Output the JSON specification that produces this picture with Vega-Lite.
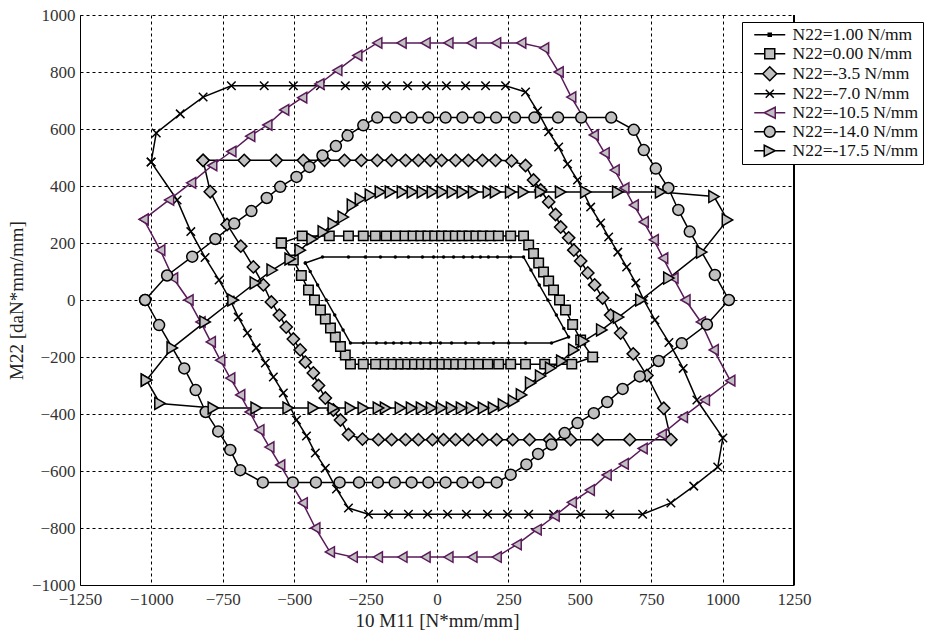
{
"$schema": "https://vega.github.io/schema/vega-lite/v6.json",
"width": 714, "height": 570,
"autosize": {"type": "none"},
"padding": {"left": 80, "top": 15, "right": 131, "bottom": 49},
"background": "white",
"config": {
 "font": "Liberation Serif",
 "view": {"stroke": null},
 "axis": {"domainColor": "black", "domainWidth": 1, "gridColor": "black", "gridDash": [3, 3], "gridWidth": 1, "gridOpacity": 1, "ticks": false, "labelFont": "Liberation Serif", "labelFontSize": 17, "labelColor": "#333", "labelFlush": false, "titleFont": "Liberation Serif", "titleFontSize": 19, "titleFontWeight": "normal", "titleColor": "#222"}
},
"datasets": {"pts": [
{"s":"N22=1.00 N/mm","i":0,"x":-461,"y":130},{"s":"N22=1.00 N/mm","i":1,"x":-401,"y":151},{"s":"N22=1.00 N/mm","i":2,"x":-310,"y":151},{"s":"N22=1.00 N/mm","i":3,"x":-251,"y":151},{"s":"N22=1.00 N/mm","i":4,"x":-198,"y":151},{"s":"N22=1.00 N/mm","i":5,"x":-146,"y":151},{"s":"N22=1.00 N/mm","i":6,"x":-100,"y":151},{"s":"N22=1.00 N/mm","i":7,"x":-51,"y":151},{"s":"N22=1.00 N/mm","i":8,"x":-12,"y":151},{"s":"N22=1.00 N/mm","i":9,"x":23,"y":151},{"s":"N22=1.00 N/mm","i":10,"x":58,"y":151},{"s":"N22=1.00 N/mm","i":11,"x":93,"y":151},{"s":"N22=1.00 N/mm","i":12,"x":124,"y":151},{"s":"N22=1.00 N/mm","i":13,"x":152,"y":151},{"s":"N22=1.00 N/mm","i":14,"x":180,"y":151},{"s":"N22=1.00 N/mm","i":15,"x":212,"y":151},{"s":"N22=1.00 N/mm","i":16,"x":258,"y":151},{"s":"N22=1.00 N/mm","i":17,"x":303,"y":151},{"s":"N22=1.00 N/mm","i":18,"x":329,"y":105},{"s":"N22=1.00 N/mm","i":19,"x":358,"y":53},{"s":"N22=1.00 N/mm","i":20,"x":388,"y":0},{"s":"N22=1.00 N/mm","i":21,"x":418,"y":-53},{"s":"N22=1.00 N/mm","i":22,"x":444,"y":-100},{"s":"N22=1.00 N/mm","i":23,"x":461,"y":-130},{"s":"N22=1.00 N/mm","i":24,"x":401,"y":-151},{"s":"N22=1.00 N/mm","i":25,"x":310,"y":-151},{"s":"N22=1.00 N/mm","i":26,"x":251,"y":-151},{"s":"N22=1.00 N/mm","i":27,"x":198,"y":-151},{"s":"N22=1.00 N/mm","i":28,"x":146,"y":-151},{"s":"N22=1.00 N/mm","i":29,"x":100,"y":-151},{"s":"N22=1.00 N/mm","i":30,"x":51,"y":-151},{"s":"N22=1.00 N/mm","i":31,"x":12,"y":-151},{"s":"N22=1.00 N/mm","i":32,"x":-23,"y":-151},{"s":"N22=1.00 N/mm","i":33,"x":-58,"y":-151},{"s":"N22=1.00 N/mm","i":34,"x":-93,"y":-151},{"s":"N22=1.00 N/mm","i":35,"x":-124,"y":-151},{"s":"N22=1.00 N/mm","i":36,"x":-152,"y":-151},{"s":"N22=1.00 N/mm","i":37,"x":-180,"y":-151},{"s":"N22=1.00 N/mm","i":38,"x":-212,"y":-151},{"s":"N22=1.00 N/mm","i":39,"x":-258,"y":-151},{"s":"N22=1.00 N/mm","i":40,"x":-303,"y":-151},{"s":"N22=1.00 N/mm","i":41,"x":-329,"y":-105},{"s":"N22=1.00 N/mm","i":42,"x":-358,"y":-53},{"s":"N22=1.00 N/mm","i":43,"x":-388,"y":0},{"s":"N22=1.00 N/mm","i":44,"x":-418,"y":53},{"s":"N22=1.00 N/mm","i":45,"x":-444,"y":100},{"s":"N22=1.00 N/mm","i":46,"x":-461,"y":130},

{"s":"N22=0.00 N/mm","i":0,"x":-545,"y":200},{"s":"N22=0.00 N/mm","i":1,"x":-472,"y":225},{"s":"N22=0.00 N/mm","i":2,"x":-377,"y":225},{"s":"N22=0.00 N/mm","i":3,"x":-310,"y":225},{"s":"N22=0.00 N/mm","i":4,"x":-258,"y":225},{"s":"N22=0.00 N/mm","i":5,"x":-216,"y":225},{"s":"N22=0.00 N/mm","i":6,"x":-178,"y":225},{"s":"N22=0.00 N/mm","i":7,"x":-144,"y":225},{"s":"N22=0.00 N/mm","i":8,"x":-112,"y":225},{"s":"N22=0.00 N/mm","i":9,"x":-84,"y":225},{"s":"N22=0.00 N/mm","i":10,"x":-57,"y":225},{"s":"N22=0.00 N/mm","i":11,"x":-32,"y":225},{"s":"N22=0.00 N/mm","i":12,"x":-8,"y":225},{"s":"N22=0.00 N/mm","i":13,"x":16,"y":225},{"s":"N22=0.00 N/mm","i":14,"x":40,"y":225},{"s":"N22=0.00 N/mm","i":15,"x":64,"y":225},{"s":"N22=0.00 N/mm","i":16,"x":88,"y":225},{"s":"N22=0.00 N/mm","i":17,"x":112,"y":225},{"s":"N22=0.00 N/mm","i":18,"x":136,"y":225},{"s":"N22=0.00 N/mm","i":19,"x":160,"y":225},{"s":"N22=0.00 N/mm","i":20,"x":187,"y":225},{"s":"N22=0.00 N/mm","i":21,"x":215,"y":225},{"s":"N22=0.00 N/mm","i":22,"x":258,"y":225},{"s":"N22=0.00 N/mm","i":23,"x":303,"y":225},{"s":"N22=0.00 N/mm","i":24,"x":321,"y":193},{"s":"N22=0.00 N/mm","i":25,"x":338,"y":163},{"s":"N22=0.00 N/mm","i":26,"x":356,"y":130},{"s":"N22=0.00 N/mm","i":27,"x":373,"y":98},{"s":"N22=0.00 N/mm","i":28,"x":391,"y":67},{"s":"N22=0.00 N/mm","i":29,"x":408,"y":35},{"s":"N22=0.00 N/mm","i":30,"x":429,"y":0},{"s":"N22=0.00 N/mm","i":31,"x":450,"y":-35},{"s":"N22=0.00 N/mm","i":32,"x":475,"y":-86},{"s":"N22=0.00 N/mm","i":33,"x":503,"y":-140},{"s":"N22=0.00 N/mm","i":34,"x":545,"y":-200},{"s":"N22=0.00 N/mm","i":35,"x":472,"y":-225},{"s":"N22=0.00 N/mm","i":36,"x":377,"y":-225},{"s":"N22=0.00 N/mm","i":37,"x":310,"y":-225},{"s":"N22=0.00 N/mm","i":38,"x":258,"y":-225},{"s":"N22=0.00 N/mm","i":39,"x":216,"y":-225},{"s":"N22=0.00 N/mm","i":40,"x":178,"y":-225},{"s":"N22=0.00 N/mm","i":41,"x":144,"y":-225},{"s":"N22=0.00 N/mm","i":42,"x":112,"y":-225},{"s":"N22=0.00 N/mm","i":43,"x":84,"y":-225},{"s":"N22=0.00 N/mm","i":44,"x":57,"y":-225},{"s":"N22=0.00 N/mm","i":45,"x":32,"y":-225},{"s":"N22=0.00 N/mm","i":46,"x":8,"y":-225},{"s":"N22=0.00 N/mm","i":47,"x":-16,"y":-225},{"s":"N22=0.00 N/mm","i":48,"x":-40,"y":-225},{"s":"N22=0.00 N/mm","i":49,"x":-64,"y":-225},{"s":"N22=0.00 N/mm","i":50,"x":-88,"y":-225},{"s":"N22=0.00 N/mm","i":51,"x":-112,"y":-225},{"s":"N22=0.00 N/mm","i":52,"x":-136,"y":-225},{"s":"N22=0.00 N/mm","i":53,"x":-160,"y":-225},{"s":"N22=0.00 N/mm","i":54,"x":-187,"y":-225},{"s":"N22=0.00 N/mm","i":55,"x":-215,"y":-225},{"s":"N22=0.00 N/mm","i":56,"x":-258,"y":-225},{"s":"N22=0.00 N/mm","i":57,"x":-303,"y":-225},{"s":"N22=0.00 N/mm","i":58,"x":-321,"y":-193},{"s":"N22=0.00 N/mm","i":59,"x":-338,"y":-163},{"s":"N22=0.00 N/mm","i":60,"x":-356,"y":-130},{"s":"N22=0.00 N/mm","i":61,"x":-373,"y":-98},{"s":"N22=0.00 N/mm","i":62,"x":-391,"y":-67},{"s":"N22=0.00 N/mm","i":63,"x":-408,"y":-35},{"s":"N22=0.00 N/mm","i":64,"x":-429,"y":0},{"s":"N22=0.00 N/mm","i":65,"x":-450,"y":35},{"s":"N22=0.00 N/mm","i":66,"x":-475,"y":86},{"s":"N22=0.00 N/mm","i":67,"x":-503,"y":140},{"s":"N22=0.00 N/mm","i":68,"x":-545,"y":200},

{"s":"N22=-3.5 N/mm","i":0,"x":-819,"y":490},{"s":"N22=-3.5 N/mm","i":1,"x":-675,"y":490},{"s":"N22=-3.5 N/mm","i":2,"x":-563,"y":490},{"s":"N22=-3.5 N/mm","i":3,"x":-468,"y":490},{"s":"N22=-3.5 N/mm","i":4,"x":-394,"y":490},{"s":"N22=-3.5 N/mm","i":5,"x":-324,"y":490},{"s":"N22=-3.5 N/mm","i":6,"x":-265,"y":490},{"s":"N22=-3.5 N/mm","i":7,"x":-209,"y":490},{"s":"N22=-3.5 N/mm","i":8,"x":-159,"y":490},{"s":"N22=-3.5 N/mm","i":9,"x":-110,"y":490},{"s":"N22=-3.5 N/mm","i":10,"x":-65,"y":490},{"s":"N22=-3.5 N/mm","i":11,"x":-23,"y":490},{"s":"N22=-3.5 N/mm","i":12,"x":16,"y":490},{"s":"N22=-3.5 N/mm","i":13,"x":65,"y":490},{"s":"N22=-3.5 N/mm","i":14,"x":110,"y":490},{"s":"N22=-3.5 N/mm","i":15,"x":159,"y":490},{"s":"N22=-3.5 N/mm","i":16,"x":205,"y":490},{"s":"N22=-3.5 N/mm","i":17,"x":261,"y":488},{"s":"N22=-3.5 N/mm","i":18,"x":310,"y":472},{"s":"N22=-3.5 N/mm","i":19,"x":338,"y":421},{"s":"N22=-3.5 N/mm","i":20,"x":363,"y":386},{"s":"N22=-3.5 N/mm","i":21,"x":391,"y":344},{"s":"N22=-3.5 N/mm","i":22,"x":415,"y":300},{"s":"N22=-3.5 N/mm","i":23,"x":433,"y":256},{"s":"N22=-3.5 N/mm","i":24,"x":461,"y":218},{"s":"N22=-3.5 N/mm","i":25,"x":479,"y":175},{"s":"N22=-3.5 N/mm","i":26,"x":503,"y":137},{"s":"N22=-3.5 N/mm","i":27,"x":528,"y":95},{"s":"N22=-3.5 N/mm","i":28,"x":552,"y":53},{"s":"N22=-3.5 N/mm","i":29,"x":580,"y":7},{"s":"N22=-3.5 N/mm","i":30,"x":608,"y":-53},{"s":"N22=-3.5 N/mm","i":31,"x":643,"y":-116},{"s":"N22=-3.5 N/mm","i":32,"x":687,"y":-189},{"s":"N22=-3.5 N/mm","i":33,"x":735,"y":-265},{"s":"N22=-3.5 N/mm","i":34,"x":794,"y":-380},{"s":"N22=-3.5 N/mm","i":35,"x":819,"y":-490},{"s":"N22=-3.5 N/mm","i":36,"x":675,"y":-490},{"s":"N22=-3.5 N/mm","i":37,"x":563,"y":-490},{"s":"N22=-3.5 N/mm","i":38,"x":468,"y":-490},{"s":"N22=-3.5 N/mm","i":39,"x":394,"y":-490},{"s":"N22=-3.5 N/mm","i":40,"x":324,"y":-490},{"s":"N22=-3.5 N/mm","i":41,"x":265,"y":-490},{"s":"N22=-3.5 N/mm","i":42,"x":209,"y":-490},{"s":"N22=-3.5 N/mm","i":43,"x":159,"y":-490},{"s":"N22=-3.5 N/mm","i":44,"x":110,"y":-490},{"s":"N22=-3.5 N/mm","i":45,"x":65,"y":-490},{"s":"N22=-3.5 N/mm","i":46,"x":23,"y":-490},{"s":"N22=-3.5 N/mm","i":47,"x":-16,"y":-490},{"s":"N22=-3.5 N/mm","i":48,"x":-65,"y":-490},{"s":"N22=-3.5 N/mm","i":49,"x":-110,"y":-490},{"s":"N22=-3.5 N/mm","i":50,"x":-159,"y":-490},{"s":"N22=-3.5 N/mm","i":51,"x":-205,"y":-490},{"s":"N22=-3.5 N/mm","i":52,"x":-261,"y":-488},{"s":"N22=-3.5 N/mm","i":53,"x":-310,"y":-472},{"s":"N22=-3.5 N/mm","i":54,"x":-338,"y":-421},{"s":"N22=-3.5 N/mm","i":55,"x":-363,"y":-386},{"s":"N22=-3.5 N/mm","i":56,"x":-391,"y":-344},{"s":"N22=-3.5 N/mm","i":57,"x":-415,"y":-300},{"s":"N22=-3.5 N/mm","i":58,"x":-433,"y":-256},{"s":"N22=-3.5 N/mm","i":59,"x":-461,"y":-218},{"s":"N22=-3.5 N/mm","i":60,"x":-479,"y":-175},{"s":"N22=-3.5 N/mm","i":61,"x":-503,"y":-137},{"s":"N22=-3.5 N/mm","i":62,"x":-528,"y":-95},{"s":"N22=-3.5 N/mm","i":63,"x":-552,"y":-53},{"s":"N22=-3.5 N/mm","i":64,"x":-580,"y":-7},{"s":"N22=-3.5 N/mm","i":65,"x":-608,"y":53},{"s":"N22=-3.5 N/mm","i":66,"x":-643,"y":116},{"s":"N22=-3.5 N/mm","i":67,"x":-687,"y":189},{"s":"N22=-3.5 N/mm","i":68,"x":-735,"y":265},{"s":"N22=-3.5 N/mm","i":69,"x":-794,"y":380},{"s":"N22=-3.5 N/mm","i":70,"x":-819,"y":490},

{"s":"N22=-7.0 N/mm","i":0,"x":-1001,"y":484},{"s":"N22=-7.0 N/mm","i":1,"x":-983,"y":586},{"s":"N22=-7.0 N/mm","i":2,"x":-899,"y":653},{"s":"N22=-7.0 N/mm","i":3,"x":-819,"y":712},{"s":"N22=-7.0 N/mm","i":4,"x":-720,"y":752},{"s":"N22=-7.0 N/mm","i":5,"x":-605,"y":752},{"s":"N22=-7.0 N/mm","i":6,"x":-503,"y":752},{"s":"N22=-7.0 N/mm","i":7,"x":-408,"y":752},{"s":"N22=-7.0 N/mm","i":8,"x":-321,"y":752},{"s":"N22=-7.0 N/mm","i":9,"x":-247,"y":752},{"s":"N22=-7.0 N/mm","i":10,"x":-177,"y":752},{"s":"N22=-7.0 N/mm","i":11,"x":-103,"y":752},{"s":"N22=-7.0 N/mm","i":12,"x":-37,"y":752},{"s":"N22=-7.0 N/mm","i":13,"x":33,"y":752},{"s":"N22=-7.0 N/mm","i":14,"x":100,"y":752},{"s":"N22=-7.0 N/mm","i":15,"x":170,"y":752},{"s":"N22=-7.0 N/mm","i":16,"x":240,"y":752},{"s":"N22=-7.0 N/mm","i":17,"x":310,"y":730},{"s":"N22=-7.0 N/mm","i":18,"x":352,"y":663},{"s":"N22=-7.0 N/mm","i":19,"x":391,"y":590},{"s":"N22=-7.0 N/mm","i":20,"x":426,"y":537},{"s":"N22=-7.0 N/mm","i":21,"x":457,"y":477},{"s":"N22=-7.0 N/mm","i":22,"x":492,"y":421},{"s":"N22=-7.0 N/mm","i":23,"x":538,"y":326},{"s":"N22=-7.0 N/mm","i":24,"x":573,"y":270},{"s":"N22=-7.0 N/mm","i":25,"x":601,"y":221},{"s":"N22=-7.0 N/mm","i":26,"x":633,"y":168},{"s":"N22=-7.0 N/mm","i":27,"x":664,"y":116},{"s":"N22=-7.0 N/mm","i":28,"x":696,"y":60},{"s":"N22=-7.0 N/mm","i":29,"x":724,"y":0},{"s":"N22=-7.0 N/mm","i":30,"x":763,"y":-70},{"s":"N22=-7.0 N/mm","i":31,"x":812,"y":-149},{"s":"N22=-7.0 N/mm","i":32,"x":862,"y":-240},{"s":"N22=-7.0 N/mm","i":33,"x":910,"y":-351},{"s":"N22=-7.0 N/mm","i":34,"x":1001,"y":-484},{"s":"N22=-7.0 N/mm","i":35,"x":983,"y":-586},{"s":"N22=-7.0 N/mm","i":36,"x":899,"y":-653},{"s":"N22=-7.0 N/mm","i":37,"x":819,"y":-712},{"s":"N22=-7.0 N/mm","i":38,"x":720,"y":-752},{"s":"N22=-7.0 N/mm","i":39,"x":605,"y":-752},{"s":"N22=-7.0 N/mm","i":40,"x":503,"y":-752},{"s":"N22=-7.0 N/mm","i":41,"x":408,"y":-752},{"s":"N22=-7.0 N/mm","i":42,"x":321,"y":-752},{"s":"N22=-7.0 N/mm","i":43,"x":247,"y":-752},{"s":"N22=-7.0 N/mm","i":44,"x":177,"y":-752},{"s":"N22=-7.0 N/mm","i":45,"x":103,"y":-752},{"s":"N22=-7.0 N/mm","i":46,"x":37,"y":-752},{"s":"N22=-7.0 N/mm","i":47,"x":-33,"y":-752},{"s":"N22=-7.0 N/mm","i":48,"x":-100,"y":-752},{"s":"N22=-7.0 N/mm","i":49,"x":-170,"y":-752},{"s":"N22=-7.0 N/mm","i":50,"x":-240,"y":-752},{"s":"N22=-7.0 N/mm","i":51,"x":-310,"y":-730},{"s":"N22=-7.0 N/mm","i":52,"x":-352,"y":-663},{"s":"N22=-7.0 N/mm","i":53,"x":-391,"y":-590},{"s":"N22=-7.0 N/mm","i":54,"x":-426,"y":-537},{"s":"N22=-7.0 N/mm","i":55,"x":-457,"y":-477},{"s":"N22=-7.0 N/mm","i":56,"x":-492,"y":-421},{"s":"N22=-7.0 N/mm","i":57,"x":-538,"y":-326},{"s":"N22=-7.0 N/mm","i":58,"x":-573,"y":-270},{"s":"N22=-7.0 N/mm","i":59,"x":-601,"y":-221},{"s":"N22=-7.0 N/mm","i":60,"x":-633,"y":-168},{"s":"N22=-7.0 N/mm","i":61,"x":-664,"y":-116},{"s":"N22=-7.0 N/mm","i":62,"x":-696,"y":-60},{"s":"N22=-7.0 N/mm","i":63,"x":-724,"y":0},{"s":"N22=-7.0 N/mm","i":64,"x":-763,"y":70},{"s":"N22=-7.0 N/mm","i":65,"x":-812,"y":149},{"s":"N22=-7.0 N/mm","i":66,"x":-862,"y":240},{"s":"N22=-7.0 N/mm","i":67,"x":-910,"y":351},{"s":"N22=-7.0 N/mm","i":68,"x":-1001,"y":484},

{"s":"N22=-10.5 N/mm","i":0,"x":-1027,"y":283},{"s":"N22=-10.5 N/mm","i":1,"x":-938,"y":351},{"s":"N22=-10.5 N/mm","i":2,"x":-861,"y":411},{"s":"N22=-10.5 N/mm","i":3,"x":-787,"y":472},{"s":"N22=-10.5 N/mm","i":4,"x":-720,"y":521},{"s":"N22=-10.5 N/mm","i":5,"x":-654,"y":575},{"s":"N22=-10.5 N/mm","i":6,"x":-594,"y":614},{"s":"N22=-10.5 N/mm","i":7,"x":-535,"y":667},{"s":"N22=-10.5 N/mm","i":8,"x":-472,"y":710},{"s":"N22=-10.5 N/mm","i":9,"x":-412,"y":758},{"s":"N22=-10.5 N/mm","i":10,"x":-349,"y":806},{"s":"N22=-10.5 N/mm","i":11,"x":-279,"y":858},{"s":"N22=-10.5 N/mm","i":12,"x":-209,"y":902},{"s":"N22=-10.5 N/mm","i":13,"x":-124,"y":902},{"s":"N22=-10.5 N/mm","i":14,"x":-40,"y":902},{"s":"N22=-10.5 N/mm","i":15,"x":40,"y":902},{"s":"N22=-10.5 N/mm","i":16,"x":121,"y":902},{"s":"N22=-10.5 N/mm","i":17,"x":207,"y":902},{"s":"N22=-10.5 N/mm","i":18,"x":295,"y":902},{"s":"N22=-10.5 N/mm","i":19,"x":375,"y":884},{"s":"N22=-10.5 N/mm","i":20,"x":426,"y":800},{"s":"N22=-10.5 N/mm","i":21,"x":470,"y":712},{"s":"N22=-10.5 N/mm","i":22,"x":549,"y":579},{"s":"N22=-10.5 N/mm","i":23,"x":587,"y":516},{"s":"N22=-10.5 N/mm","i":24,"x":622,"y":456},{"s":"N22=-10.5 N/mm","i":25,"x":656,"y":393},{"s":"N22=-10.5 N/mm","i":26,"x":689,"y":333},{"s":"N22=-10.5 N/mm","i":27,"x":724,"y":274},{"s":"N22=-10.5 N/mm","i":28,"x":759,"y":211},{"s":"N22=-10.5 N/mm","i":29,"x":792,"y":147},{"s":"N22=-10.5 N/mm","i":30,"x":828,"y":77},{"s":"N22=-10.5 N/mm","i":31,"x":870,"y":0},{"s":"N22=-10.5 N/mm","i":32,"x":924,"y":-77},{"s":"N22=-10.5 N/mm","i":33,"x":969,"y":-175},{"s":"N22=-10.5 N/mm","i":34,"x":1027,"y":-283},{"s":"N22=-10.5 N/mm","i":35,"x":938,"y":-351},{"s":"N22=-10.5 N/mm","i":36,"x":861,"y":-411},{"s":"N22=-10.5 N/mm","i":37,"x":787,"y":-472},{"s":"N22=-10.5 N/mm","i":38,"x":720,"y":-521},{"s":"N22=-10.5 N/mm","i":39,"x":654,"y":-575},{"s":"N22=-10.5 N/mm","i":40,"x":594,"y":-614},{"s":"N22=-10.5 N/mm","i":41,"x":535,"y":-667},{"s":"N22=-10.5 N/mm","i":42,"x":472,"y":-710},{"s":"N22=-10.5 N/mm","i":43,"x":412,"y":-758},{"s":"N22=-10.5 N/mm","i":44,"x":349,"y":-806},{"s":"N22=-10.5 N/mm","i":45,"x":279,"y":-858},{"s":"N22=-10.5 N/mm","i":46,"x":209,"y":-902},{"s":"N22=-10.5 N/mm","i":47,"x":124,"y":-902},{"s":"N22=-10.5 N/mm","i":48,"x":40,"y":-902},{"s":"N22=-10.5 N/mm","i":49,"x":-40,"y":-902},{"s":"N22=-10.5 N/mm","i":50,"x":-121,"y":-902},{"s":"N22=-10.5 N/mm","i":51,"x":-207,"y":-902},{"s":"N22=-10.5 N/mm","i":52,"x":-295,"y":-902},{"s":"N22=-10.5 N/mm","i":53,"x":-375,"y":-884},{"s":"N22=-10.5 N/mm","i":54,"x":-426,"y":-800},{"s":"N22=-10.5 N/mm","i":55,"x":-470,"y":-712},{"s":"N22=-10.5 N/mm","i":56,"x":-549,"y":-579},{"s":"N22=-10.5 N/mm","i":57,"x":-587,"y":-516},{"s":"N22=-10.5 N/mm","i":58,"x":-622,"y":-456},{"s":"N22=-10.5 N/mm","i":59,"x":-656,"y":-393},{"s":"N22=-10.5 N/mm","i":60,"x":-689,"y":-333},{"s":"N22=-10.5 N/mm","i":61,"x":-724,"y":-274},{"s":"N22=-10.5 N/mm","i":62,"x":-759,"y":-211},{"s":"N22=-10.5 N/mm","i":63,"x":-792,"y":-147},{"s":"N22=-10.5 N/mm","i":64,"x":-828,"y":-77},{"s":"N22=-10.5 N/mm","i":65,"x":-870,"y":0},{"s":"N22=-10.5 N/mm","i":66,"x":-924,"y":77},{"s":"N22=-10.5 N/mm","i":67,"x":-969,"y":175},{"s":"N22=-10.5 N/mm","i":68,"x":-1027,"y":283},

{"s":"N22=-14.0 N/mm","i":0,"x":-1022,"y":0},{"s":"N22=-14.0 N/mm","i":1,"x":-945,"y":86},{"s":"N22=-14.0 N/mm","i":2,"x":-857,"y":152},{"s":"N22=-14.0 N/mm","i":3,"x":-776,"y":214},{"s":"N22=-14.0 N/mm","i":4,"x":-710,"y":268},{"s":"N22=-14.0 N/mm","i":5,"x":-650,"y":312},{"s":"N22=-14.0 N/mm","i":6,"x":-596,"y":358},{"s":"N22=-14.0 N/mm","i":7,"x":-549,"y":397},{"s":"N22=-14.0 N/mm","i":8,"x":-492,"y":432},{"s":"N22=-14.0 N/mm","i":9,"x":-447,"y":467},{"s":"N22=-14.0 N/mm","i":10,"x":-401,"y":507},{"s":"N22=-14.0 N/mm","i":11,"x":-354,"y":540},{"s":"N22=-14.0 N/mm","i":12,"x":-313,"y":577},{"s":"N22=-14.0 N/mm","i":13,"x":-258,"y":613},{"s":"N22=-14.0 N/mm","i":14,"x":-209,"y":640},{"s":"N22=-14.0 N/mm","i":15,"x":-145,"y":640},{"s":"N22=-14.0 N/mm","i":16,"x":-89,"y":640},{"s":"N22=-14.0 N/mm","i":17,"x":-30,"y":640},{"s":"N22=-14.0 N/mm","i":18,"x":30,"y":640},{"s":"N22=-14.0 N/mm","i":19,"x":89,"y":640},{"s":"N22=-14.0 N/mm","i":20,"x":148,"y":640},{"s":"N22=-14.0 N/mm","i":21,"x":207,"y":640},{"s":"N22=-14.0 N/mm","i":22,"x":273,"y":640},{"s":"N22=-14.0 N/mm","i":23,"x":341,"y":640},{"s":"N22=-14.0 N/mm","i":24,"x":424,"y":640},{"s":"N22=-14.0 N/mm","i":25,"x":505,"y":640},{"s":"N22=-14.0 N/mm","i":26,"x":610,"y":640},{"s":"N22=-14.0 N/mm","i":27,"x":689,"y":597},{"s":"N22=-14.0 N/mm","i":28,"x":724,"y":526},{"s":"N22=-14.0 N/mm","i":29,"x":766,"y":461},{"s":"N22=-14.0 N/mm","i":30,"x":810,"y":393},{"s":"N22=-14.0 N/mm","i":31,"x":845,"y":316},{"s":"N22=-14.0 N/mm","i":32,"x":885,"y":240},{"s":"N22=-14.0 N/mm","i":33,"x":973,"y":88},{"s":"N22=-14.0 N/mm","i":34,"x":1022,"y":0},{"s":"N22=-14.0 N/mm","i":35,"x":945,"y":-86},{"s":"N22=-14.0 N/mm","i":36,"x":857,"y":-152},{"s":"N22=-14.0 N/mm","i":37,"x":776,"y":-214},{"s":"N22=-14.0 N/mm","i":38,"x":710,"y":-268},{"s":"N22=-14.0 N/mm","i":39,"x":650,"y":-312},{"s":"N22=-14.0 N/mm","i":40,"x":596,"y":-358},{"s":"N22=-14.0 N/mm","i":41,"x":549,"y":-397},{"s":"N22=-14.0 N/mm","i":42,"x":492,"y":-432},{"s":"N22=-14.0 N/mm","i":43,"x":447,"y":-467},{"s":"N22=-14.0 N/mm","i":44,"x":401,"y":-507},{"s":"N22=-14.0 N/mm","i":45,"x":354,"y":-540},{"s":"N22=-14.0 N/mm","i":46,"x":313,"y":-577},{"s":"N22=-14.0 N/mm","i":47,"x":258,"y":-613},{"s":"N22=-14.0 N/mm","i":48,"x":209,"y":-640},{"s":"N22=-14.0 N/mm","i":49,"x":145,"y":-640},{"s":"N22=-14.0 N/mm","i":50,"x":89,"y":-640},{"s":"N22=-14.0 N/mm","i":51,"x":30,"y":-640},{"s":"N22=-14.0 N/mm","i":52,"x":-30,"y":-640},{"s":"N22=-14.0 N/mm","i":53,"x":-89,"y":-640},{"s":"N22=-14.0 N/mm","i":54,"x":-148,"y":-640},{"s":"N22=-14.0 N/mm","i":55,"x":-207,"y":-640},{"s":"N22=-14.0 N/mm","i":56,"x":-273,"y":-640},{"s":"N22=-14.0 N/mm","i":57,"x":-341,"y":-640},{"s":"N22=-14.0 N/mm","i":58,"x":-424,"y":-640},{"s":"N22=-14.0 N/mm","i":59,"x":-505,"y":-640},{"s":"N22=-14.0 N/mm","i":60,"x":-610,"y":-640},{"s":"N22=-14.0 N/mm","i":61,"x":-689,"y":-597},{"s":"N22=-14.0 N/mm","i":62,"x":-724,"y":-526},{"s":"N22=-14.0 N/mm","i":63,"x":-766,"y":-461},{"s":"N22=-14.0 N/mm","i":64,"x":-810,"y":-393},{"s":"N22=-14.0 N/mm","i":65,"x":-845,"y":-316},{"s":"N22=-14.0 N/mm","i":66,"x":-885,"y":-240},{"s":"N22=-14.0 N/mm","i":67,"x":-973,"y":-88},{"s":"N22=-14.0 N/mm","i":68,"x":-1022,"y":0},

{"s":"N22=-17.5 N/mm","i":0,"x":-1017,"y":-281},{"s":"N22=-17.5 N/mm","i":1,"x":-927,"y":-168},{"s":"N22=-17.5 N/mm","i":2,"x":-812,"y":-77},{"s":"N22=-17.5 N/mm","i":3,"x":-714,"y":0},{"s":"N22=-17.5 N/mm","i":4,"x":-636,"y":60},{"s":"N22=-17.5 N/mm","i":5,"x":-577,"y":105},{"s":"N22=-17.5 N/mm","i":6,"x":-514,"y":144},{"s":"N22=-17.5 N/mm","i":7,"x":-479,"y":175},{"s":"N22=-17.5 N/mm","i":8,"x":-437,"y":214},{"s":"N22=-17.5 N/mm","i":9,"x":-398,"y":239},{"s":"N22=-17.5 N/mm","i":10,"x":-363,"y":267},{"s":"N22=-17.5 N/mm","i":11,"x":-328,"y":291},{"s":"N22=-17.5 N/mm","i":12,"x":-296,"y":333},{"s":"N22=-17.5 N/mm","i":13,"x":-268,"y":354},{"s":"N22=-17.5 N/mm","i":14,"x":-233,"y":368},{"s":"N22=-17.5 N/mm","i":15,"x":-198,"y":379},{"s":"N22=-17.5 N/mm","i":16,"x":-163,"y":379},{"s":"N22=-17.5 N/mm","i":17,"x":-121,"y":379},{"s":"N22=-17.5 N/mm","i":18,"x":-86,"y":379},{"s":"N22=-17.5 N/mm","i":19,"x":-51,"y":379},{"s":"N22=-17.5 N/mm","i":20,"x":-16,"y":379},{"s":"N22=-17.5 N/mm","i":21,"x":19,"y":379},{"s":"N22=-17.5 N/mm","i":22,"x":54,"y":379},{"s":"N22=-17.5 N/mm","i":23,"x":89,"y":379},{"s":"N22=-17.5 N/mm","i":24,"x":128,"y":379},{"s":"N22=-17.5 N/mm","i":25,"x":180,"y":379},{"s":"N22=-17.5 N/mm","i":26,"x":205,"y":379},{"s":"N22=-17.5 N/mm","i":27,"x":258,"y":379},{"s":"N22=-17.5 N/mm","i":28,"x":303,"y":379},{"s":"N22=-17.5 N/mm","i":29,"x":363,"y":379},{"s":"N22=-17.5 N/mm","i":30,"x":433,"y":379},{"s":"N22=-17.5 N/mm","i":31,"x":521,"y":379},{"s":"N22=-17.5 N/mm","i":32,"x":633,"y":379},{"s":"N22=-17.5 N/mm","i":33,"x":783,"y":379},{"s":"N22=-17.5 N/mm","i":34,"x":970,"y":363},{"s":"N22=-17.5 N/mm","i":35,"x":1017,"y":281},{"s":"N22=-17.5 N/mm","i":36,"x":927,"y":168},{"s":"N22=-17.5 N/mm","i":37,"x":812,"y":77},{"s":"N22=-17.5 N/mm","i":38,"x":714,"y":0},{"s":"N22=-17.5 N/mm","i":39,"x":636,"y":-60},{"s":"N22=-17.5 N/mm","i":40,"x":577,"y":-105},{"s":"N22=-17.5 N/mm","i":41,"x":514,"y":-144},{"s":"N22=-17.5 N/mm","i":42,"x":479,"y":-175},{"s":"N22=-17.5 N/mm","i":43,"x":437,"y":-214},{"s":"N22=-17.5 N/mm","i":44,"x":398,"y":-239},{"s":"N22=-17.5 N/mm","i":45,"x":363,"y":-267},{"s":"N22=-17.5 N/mm","i":46,"x":328,"y":-291},{"s":"N22=-17.5 N/mm","i":47,"x":296,"y":-333},{"s":"N22=-17.5 N/mm","i":48,"x":268,"y":-354},{"s":"N22=-17.5 N/mm","i":49,"x":233,"y":-368},{"s":"N22=-17.5 N/mm","i":50,"x":198,"y":-379},{"s":"N22=-17.5 N/mm","i":51,"x":163,"y":-379},{"s":"N22=-17.5 N/mm","i":52,"x":121,"y":-379},{"s":"N22=-17.5 N/mm","i":53,"x":86,"y":-379},{"s":"N22=-17.5 N/mm","i":54,"x":51,"y":-379},{"s":"N22=-17.5 N/mm","i":55,"x":16,"y":-379},{"s":"N22=-17.5 N/mm","i":56,"x":-19,"y":-379},{"s":"N22=-17.5 N/mm","i":57,"x":-54,"y":-379},{"s":"N22=-17.5 N/mm","i":58,"x":-89,"y":-379},{"s":"N22=-17.5 N/mm","i":59,"x":-128,"y":-379},{"s":"N22=-17.5 N/mm","i":60,"x":-180,"y":-379},{"s":"N22=-17.5 N/mm","i":61,"x":-205,"y":-379},{"s":"N22=-17.5 N/mm","i":62,"x":-258,"y":-379},{"s":"N22=-17.5 N/mm","i":63,"x":-303,"y":-379},{"s":"N22=-17.5 N/mm","i":64,"x":-363,"y":-379},{"s":"N22=-17.5 N/mm","i":65,"x":-433,"y":-379},{"s":"N22=-17.5 N/mm","i":66,"x":-521,"y":-379},{"s":"N22=-17.5 N/mm","i":67,"x":-633,"y":-379},{"s":"N22=-17.5 N/mm","i":68,"x":-783,"y":-379},{"s":"N22=-17.5 N/mm","i":69,"x":-970,"y":-363},{"s":"N22=-17.5 N/mm","i":70,"x":-1017,"y":-281}
]},
"data": {"name": "pts"},
"encoding": {
 "x": {"field": "x", "type": "quantitative", "title": "10 M11 [N*mm/mm]", "scale": {"domain": [-1250, 1250], "nice": false, "zero": false}, "axis": {"values": [-1250, -1000, -750, -500, -250, 0, 250, 500, 750, 1000, 1250], "format": "d", "labelFont": "Liberation Serif", "labelFontSize": 17, "labelPadding": 6, "titlePadding": 4}},
 "y": {"field": "y", "type": "quantitative", "title": "M22 [daN*mm/mm]", "scale": {"domain": [-1000, 1000], "nice": false, "zero": false}, "axis": {"values": [-1000, -800, -600, -400, -200, 0, 200, 400, 600, 800, 1000], "format": "d", "labelFont": "Liberation Serif", "labelFontSize": 17, "labelPadding": 5, "titlePadding": 5}}
},
"layer": [
 {"mark": {"type": "rule", "color": "black", "strokeWidth": 1}, "encoding": {"x": {"datum": 1250, "type": "quantitative"}, "y": null}},
 {"transform": [{"filter": "datum.s !== 'N22=-10.5 N/mm'"}],
  "mark": {"type": "line", "strokeWidth": 1.5, "color": "black"},
  "encoding": {"detail": {"field": "s", "type": "nominal"}, "order": {"field": "i", "type": "quantitative"}}},
 {"transform": [{"filter": "datum.s === 'N22=-10.5 N/mm'"}],
  "mark": {"type": "line", "strokeWidth": 1.5, "color": "#5a1a5a"},
  "encoding": {"detail": {"field": "s", "type": "nominal"}, "order": {"field": "i", "type": "quantitative"}}},
 {"mark": {"type": "point", "strokeWidth": 1.5, "opacity": 1},
  "encoding": {
   "stroke": {"condition": {"test": "datum.s === 'N22=-10.5 N/mm'", "value": "#5a1a5a"}, "value": "black"},
   "fill": {"condition": {"test": "datum.s === 'N22=1.00 N/mm' || datum.s === 'N22=-7.0 N/mm'", "value": "black"}, "value": "#c0c0c0"},
   "size": {"condition": [
     {"test": "datum.s === 'N22=1.00 N/mm'", "value": 4},
     {"test": "datum.s === 'N22=0.00 N/mm'", "value": 90},
     {"test": "datum.s === 'N22=-3.5 N/mm'", "value": 150},
     {"test": "datum.s === 'N22=-7.0 N/mm'", "value": 72},
     {"test": "datum.s === 'N22=-10.5 N/mm'", "value": 110},
     {"test": "datum.s === 'N22=-14.0 N/mm'", "value": 121}], "value": 144},
   "shape": {"condition": [
     {"test": "datum.s === 'N22=1.00 N/mm'", "value": "circle"},
     {"test": "datum.s === 'N22=0.00 N/mm'", "value": "square"},
     {"test": "datum.s === 'N22=-3.5 N/mm'", "value": "diamond"},
     {"test": "datum.s === 'N22=-7.0 N/mm'", "value": "M-1,-1L1,1M1,-1L-1,1"},
     {"test": "datum.s === 'N22=-10.5 N/mm'", "value": "triangle-left"},
     {"test": "datum.s === 'N22=-14.0 N/mm'", "value": "circle"}], "value": "triangle-right"}
  }},
 {"transform": [{"filter": "false"}],
  "mark": {"type": "point", "strokeWidth": 1.5, "opacity": 1, "filled": true},
  "encoding": {
   "stroke": {"field": "s", "type": "nominal", "scale": {"domain": ["N22=1.00 N/mm", "N22=0.00 N/mm", "N22=-3.5 N/mm", "N22=-7.0 N/mm", "N22=-10.5 N/mm", "N22=-14.0 N/mm", "N22=-17.5 N/mm"], "range": ["black", "black", "black", "black", "#5a1a5a", "black", "black"]}},
   "fill": {"field": "s", "type": "nominal", "scale": {"domain": ["N22=1.00 N/mm", "N22=0.00 N/mm", "N22=-3.5 N/mm", "N22=-7.0 N/mm", "N22=-10.5 N/mm", "N22=-14.0 N/mm", "N22=-17.5 N/mm"], "range": ["black", "#c0c0c0", "#c0c0c0", "black", "#c0c0c0", "#c0c0c0", "#c0c0c0"]}},
   "shape": {"field": "s", "type": "nominal",
    "scale": {"domain": ["N22=1.00 N/mm", "N22=0.00 N/mm", "N22=-3.5 N/mm", "N22=-7.0 N/mm", "N22=-10.5 N/mm", "N22=-14.0 N/mm", "N22=-17.5 N/mm"],
     "range": ["M-3.1,0L3.1,0M-0.3,-0.3L0.3,-0.3L0.3,0.3L-0.3,0.3Z", "M-3.1,0L-1,0M1,0L3.1,0M-1,-1L1,-1L1,1L-1,1Z", "M-3.1,0L-1.4,0M1.4,0L3.1,0M-1.4,0L0,-1.4L1.4,0L0,1.4Z", "M-3.1,0L3.1,0M-0.8,-0.8L0.8,0.8M0.8,-0.8L-0.8,0.8", "M-3.1,0L-1.1,0M1.1,0L3.1,0M-1.1,0L1.1,-1.1L1.1,1.1Z", "M-3.1,0L-1.1,0M1.1,0L3.1,0M-1.1,0A1.1,1.1,0,1,0,1.1,0A1.1,1.1,0,1,0,-1.1,0Z", "M-3.1,0L-1.1,0M1.1,0L3.1,0M-1.1,-1.1L1.1,0L-1.1,1.1Z"]},
    "legend": {"title": null, "orient": "none", "legendX": 662, "legendY": 7, "strokeColor": "black", "fillColor": "white", "padding": 4,
     "labelFont": "Liberation Serif", "labelFontSize": 17.5, "labelColor": "#111", "symbolSize": 100, "symbolStrokeWidth": 1.5, "symbolOffset": 15, "labelOffset": 14, "rowPadding": 0}}
  }}
]
}
